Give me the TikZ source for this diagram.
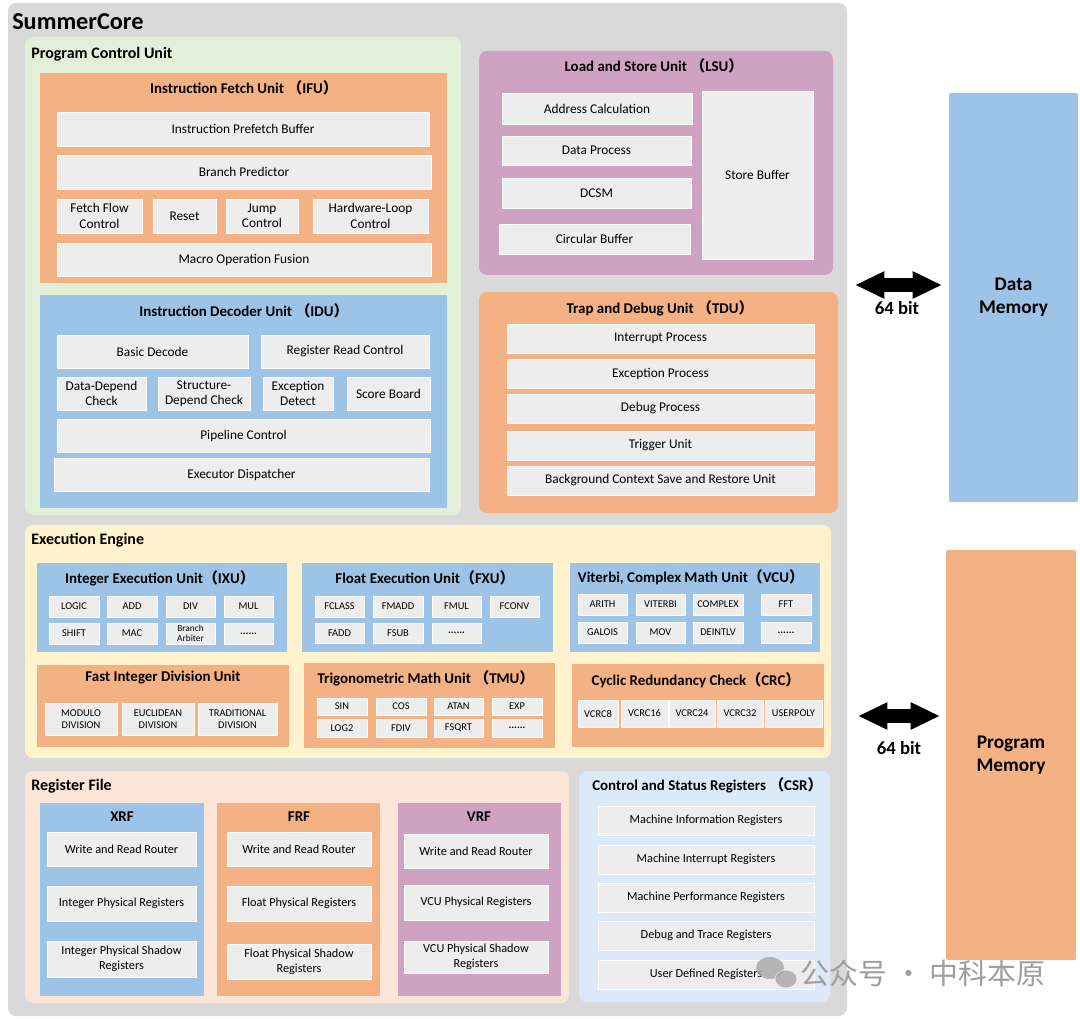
\documentclass[tikz,border=0pt]{standalone}
\usepackage{fontspec}
\setmainfont{Carlito}
\newfontfamily\cjk{Noto Sans CJK SC}
\usetikzlibrary{fit,arrows.meta}
\definecolor{coregray}{HTML}{D9D9D9}
\definecolor{pcugreen}{HTML}{E2F0D9}
\definecolor{unitorange}{HTML}{F4B183}
\definecolor{unitblue}{HTML}{9DC3E6}
\definecolor{unitpurple}{HTML}{D0A2C2}
\definecolor{cellgray}{HTML}{EDEDED}
\definecolor{execyellow}{HTML}{FFF2CC}
\definecolor{regpeach}{HTML}{FBE5D6}
\definecolor{csrblue}{HTML}{DCE9F8}
\newcommand{\fwl}{{\cjk （}}
\newcommand{\fwr}{{\cjk ）}}

\begin{document}
\begin{tikzpicture}[x=0.75pt,y=-0.75pt,
    panel/.style={inner sep=0pt,draw=none},
    cell/.style={inner sep=0pt,fill=cellgray,draw=white,line width=0.5pt},
    celltext/.style={inner sep=0pt,align=center,font=\fontsize{10}{11.5}\selectfont},
    regtext/.style={inner sep=0pt,align=center,font=\fontsize{9.2}{11}\selectfont},
    tinytext/.style={inner sep=0pt,align=center,font=\fontsize{7.8}{9.5}\selectfont},
    memtext/.style={inner sep=0pt,align=center,font=\bfseries\fontsize{14.5}{17.5}\selectfont},
    heading/.style={inner sep=0pt,font=\bfseries\fontsize{11.2}{13}\selectfont},
    panelhead/.style={inner sep=0pt,anchor=west,font=\bfseries\fontsize{12}{14}\selectfont},
    bus/.style={line width=10.5pt,{Triangle[length=22pt,width=19pt]}-{Triangle[length=22pt,width=19pt]}}]
        \useasboundingbox (0,0) rectangle (1080,1019);

        \node[panel,fill=coregray,rounded corners=6pt,fit={(8,3) (847,1016)}] (SummerCore) {};
        \node[anchor=west,inner sep=0pt,font=\bfseries\fontsize{18.2}{21}\selectfont] (Core Title) at (12,22) {SummerCore};

        % program control unit
        \node[panel,fill=pcugreen,rounded corners=6pt,fit={(25,37) (461,515)}] (PCU) {};
        \node[panelhead] (PCU Title) at (31,54) {Program Control Unit};

        \node[panel,fill=unitorange,fit={(40,73) (447,283)}] (IFU) {};
        \node[heading] (IFU Title) at (244,88) {Instruction Fetch Unit \fwl IFU\fwr};
        \node[cell,fit={(57,112) (429,146)},label={[celltext]center:Instruction Prefetch Buffer}] (Prefetch Buffer) {};
        \node[cell,fit={(57,155) (431,189)},label={[celltext]center:Branch Predictor}] (Branch Predictor) {};
        \node[cell,fit={(57,199) (142,233)},label={[celltext]center:Fetch Flow\\Control}] (Fetch Flow) {};
        \node[cell,fit={(153,199) (216,233)},label={[celltext]center:Reset}] (Reset) {};
        \node[cell,fit={(226,199) (298,233)},label={[celltext]center:Jump\\Control}] (Jump) {};
        \node[cell,fit={(313,199) (428,233)},label={[celltext]center:Hardware-Loop\\Control}] (Hardware Loop) {};
        \node[cell,fit={(57,243) (431,276)},label={[celltext]center:Macro Operation Fusion}] (Macro Fusion) {};

        \node[panel,fill=unitblue,fit={(40,295) (447,508)}] (IDU) {};
        \node[heading] (IDU Title) at (244,311) {Instruction Decoder Unit \fwl IDU\fwr};
        \node[cell,fit={(57,335) (248,368)},label={[celltext]center:Basic Decode}] (Basic Decode) {};
        \node[cell,fit={(261,335) (429,368)},label={[celltext]center:Register Read Control}] (Register Read) {};
        \node[cell,fit={(57,377) (146,410)},label={[celltext]center:Data-Depend\\Check}] (Data Depend) {};
        \node[cell,fit={(158,377) (250,410)},label={[celltext]center:Structure-\\Depend Check}] (Structure Depend) {};
        \node[cell,fit={(263,377) (333,410)},label={[celltext]center:Exception\\Detect}] (Exception Detect) {};
        \node[cell,fit={(347,377) (430,410)},label={[celltext]center:Score Board}] (Score Board) {};
        \node[cell,fit={(57,419) (430,452)},label={[celltext]center:Pipeline Control}] (Pipeline Control) {};
        \node[cell,fit={(54,458) (429,491)},label={[celltext]center:Executor Dispatcher}] (Executor Dispatcher) {};

        % load/store and trap/debug
        \node[panel,fill=unitpurple,rounded corners=6pt,fit={(479,51) (833,275)}] (LSU) {};
        \node[heading] (LSU Title) at (654,66) {Load and Store Unit \fwl LSU\fwr};
        \node[cell,fit={(502,93) (692,124)},label={[celltext]center:Address Calculation}] (Address Calculation) {};
        \node[cell,fit={(502,136) (691,165)},label={[celltext]center:Data Process}] (Data Process) {};
        \node[cell,fit={(502,178) (691,208)},label={[celltext]center:DCSM}] (DCSM) {};
        \node[cell,fit={(499,224) (690,254)},label={[celltext]center:Circular Buffer}] (Circular Buffer) {};
        \node[cell,fit={(702,91) (813,259)},label={[celltext]center:Store Buffer}] (Store Buffer) {};

        \node[panel,fill=unitorange,rounded corners=6pt,fit={(479,292) (838,513)}] (TDU) {};
        \node[heading] (TDU Title) at (660,308) {Trap and Debug Unit \fwl TDU\fwr};
        \node[cell,fit={(507,324) (814,353)},label={[celltext]center:Interrupt Process}] (Interrupt Process) {};
        \node[cell,fit={(507,359) (814,388)},label={[celltext]center:Exception Process}] (Exception Process) {};
        \node[cell,fit={(507,394) (814,423)},label={[celltext]center:Debug Process}] (Debug Process) {};
        \node[cell,fit={(507,431) (814,460)},label={[celltext]center:Trigger Unit}] (Trigger Unit) {};
        \node[cell,fit={(507,466) (814,495)},label={[celltext]center:Background Context Save and Restore Unit}] (Context Save) {};

        % execution engine
        \node[panel,fill=execyellow,rounded corners=6pt,fit={(25,525) (831,758)}] (Execution Engine) {};
        \node[panelhead] (EE Title) at (31,540) {Execution Engine};

        \node[panel,fill=unitblue,fit={(37,563) (287,652)}] (IXU) {};
        \node[heading] (IXU Title) at (160,578) {Integer Execution Unit\fwl IXU\fwr};
        \node[cell,fit={(49,596) (99,617)},label={[tinytext]center:LOGIC}] (LOGIC) {};
        \node[cell,fit={(107,596) (157,617)},label={[tinytext]center:ADD}] (ADD) {};
        \node[cell,fit={(166,596) (215,617)},label={[tinytext]center:DIV}] (DIV) {};
        \node[cell,fit={(224,596) (273,617)},label={[tinytext]center:MUL}] (MUL) {};
        \node[cell,fit={(49,623) (99,644)},label={[tinytext]center:SHIFT}] (SHIFT) {};
        \node[cell,fit={(107,623) (157,644)},label={[tinytext]center:MAC}] (MAC) {};
        \node[cell,fit={(166,623) (215,644)},label={[tinytext,font=\fontsize{7}{7.6}\selectfont]center:Branch\\Arbiter}] (Branch Arbiter) {};
        \node[cell,fit={(224,623) (273,644)},label={[tinytext]center:\textbf{......}}] (IXU More) {};

        \node[panel,fill=unitblue,fit={(302,563) (553,652)}] (FXU) {};
        \node[heading] (FXU Title) at (425,578) {Float Execution Unit\fwl FXU\fwr};
        \node[cell,fit={(315,596) (364,617)},label={[tinytext]center:FCLASS}] (FCLASS) {};
        \node[cell,fit={(373,596) (423,617)},label={[tinytext]center:FMADD}] (FMADD) {};
        \node[cell,fit={(432,596) (481,617)},label={[tinytext]center:FMUL}] (FMUL) {};
        \node[cell,fit={(490,596) (539,617)},label={[tinytext]center:FCONV}] (FCONV) {};
        \node[cell,fit={(315,623) (364,643)},label={[tinytext]center:FADD}] (FADD) {};
        \node[cell,fit={(373,623) (423,643)},label={[tinytext]center:FSUB}] (FSUB) {};
        \node[cell,fit={(432,623) (481,643)},label={[tinytext]center:\textbf{......}}] (FXU More) {};

        \node[panel,fill=unitblue,fit={(570,563) (820,652)}] (VCU) {};
        \node[heading] (VCU Title) at (691,577) {Viterbi, Complex Math Unit\fwl VCU\fwr};
        \node[cell,fit={(578,594) (627,615)},label={[tinytext]center:ARITH}] (ARITH) {};
        \node[cell,fit={(636,594) (685,615)},label={[tinytext]center:VITERBI}] (VITERBI) {};
        \node[cell,fit={(693,594) (743,615)},label={[tinytext]center:COMPLEX}] (COMPLEX) {};
        \node[cell,fit={(761,594) (811,615)},label={[tinytext]center:FFT}] (FFT) {};
        \node[cell,fit={(578,622) (627,643)},label={[tinytext]center:GALOIS}] (GALOIS) {};
        \node[cell,fit={(636,622) (685,643)},label={[tinytext]center:MOV}] (MOV) {};
        \node[cell,fit={(693,622) (743,643)},label={[tinytext]center:DEINTLV}] (DEINTLV) {};
        \node[cell,fit={(761,622) (811,643)},label={[tinytext]center:\textbf{......}}] (VCU More) {};

        \node[panel,fill=unitorange,fit={(37,665) (289,747)}] (FIDU) {};
        \node[heading] (FIDU Title) at (163,678) {Fast Integer Division Unit};
        \node[cell,fit={(45,703) (117,735)},label={[tinytext]center:MODULO\\DIVISION}] (Modulo) {};
        \node[cell,fit={(122,703) (194,735)},label={[tinytext]center:EUCLIDEAN\\DIVISION}] (Euclidean) {};
        \node[cell,fit={(198,703) (277,735)},label={[tinytext]center:TRADITIONAL\\DIVISION}] (Traditional) {};

        \node[panel,fill=unitorange,fit={(304,663) (555,748)}] (TMU) {};
        \node[heading] (TMU Title) at (426,678) {Trigonometric Math Unit \fwl TMU\fwr};
        \node[cell,fit={(317,698) (367,715)},label={[tinytext]center:SIN}] (SIN) {};
        \node[cell,fit={(376,698) (426,715)},label={[tinytext]center:COS}] (COS) {};
        \node[cell,fit={(434,698) (483,715)},label={[tinytext]center:ATAN}] (ATAN) {};
        \node[cell,fit={(492,698) (542,715)},label={[tinytext]center:EXP}] (EXP) {};
        \node[cell,fit={(317,719) (367,737)},label={[tinytext]center:LOG2}] (LOG2) {};
        \node[cell,fit={(376,719) (426,737)},label={[tinytext]center:FDIV}] (FDIV) {};
        \node[cell,fit={(434,719) (483,737)},label={[tinytext]center:FSQRT}] (FSQRT) {};
        \node[cell,fit={(492,719) (542,737)},label={[tinytext]center:\textbf{......}}] (TMU More) {};

        \node[panel,fill=unitorange,fit={(572,664) (824,747)}] (CRC) {};
        \node[heading] (CRC Title) at (696,680) {Cyclic Redundancy Check\fwl CRC\fwr};
        \node[cell,fit={(578,700) (618,727)},label={[tinytext]center:VCRC8}] (VCRC8) {};
        \node[cell,fit={(621,700) (668,727)},label={[tinytext]center:VCRC16}] (VCRC16) {};
        \node[cell,fit={(669,700) (715,727)},label={[tinytext]center:VCRC24}] (VCRC24) {};
        \node[cell,fit={(717,700) (763,727)},label={[tinytext]center:VCRC32}] (VCRC32) {};
        \node[cell,fit={(765,700) (822,727)},label={[tinytext]center:USERPOLY}] (USERPOLY) {};

        % register file
        \node[panel,fill=regpeach,rounded corners=6pt,fit={(25,771) (569,1003)}] (Register File) {};
        \node[panelhead] (RF Title) at (31,786) {Register File};

        \node[panel,fill=unitblue,fit={(40,803) (204,996)}] (XRF) {};
        \node[heading] (XRF Title) at (122,817) {XRF};
        \node[cell,fit={(47,832) (196,866)},label={[regtext]center:Write and Read Router}] (XRF Router) {};
        \node[cell,fit={(47,886) (196,921)},label={[regtext]center:Integer Physical Registers}] (XRF Physical) {};
        \node[cell,fit={(47,941) (196,977)},label={[regtext]center:Integer Physical Shadow\\Registers}] (XRF Shadow) {};

        \node[panel,fill=unitorange,fit={(217,803) (380,996)}] (FRF) {};
        \node[heading] (FRF Title) at (299,817) {FRF};
        \node[cell,fit={(227,832) (371,866)},label={[regtext]center:Write and Read Router}] (FRF Router) {};
        \node[cell,fit={(227,886) (371,921)},label={[regtext]center:Float Physical Registers}] (FRF Physical) {};
        \node[cell,fit={(227,944) (371,979)},label={[regtext]center:Float Physical Shadow\\Registers}] (FRF Shadow) {};

        \node[panel,fill=unitpurple,fit={(398,803) (561,996)}] (VRF) {};
        \node[heading] (VRF Title) at (479,817) {VRF};
        \node[cell,fit={(404,834) (548,868)},label={[regtext]center:Write and Read Router}] (VRF Router) {};
        \node[cell,fit={(404,885) (548,920)},label={[regtext]center:VCU Physical Registers}] (VRF Physical) {};
        \node[cell,fit={(404,941) (548,973)},label={[regtext]center:VCU Physical Shadow\\Registers}] (VRF Shadow) {};

        \node[panel,fill=csrblue,rounded corners=6pt,fit={(579,771) (830,1002)}] (CSR) {};
        \node[heading,anchor=west] (CSR Title) at (592,785) {Control and Status Registers \fwl CSR\fwr};
        \node[cell,fit={(598,806) (814,835)},label={[regtext]center:Machine Information Registers}] (Machine Information) {};
        \node[cell,fit={(598,845) (814,874)},label={[regtext]center:Machine Interrupt Registers}] (Machine Interrupt) {};
        \node[cell,fit={(598,883) (814,912)},label={[regtext]center:Machine Performance Registers}] (Machine Performance) {};
        \node[cell,fit={(598,921) (814,950)},label={[regtext]center:Debug and Trace Registers}] (Debug Trace) {};
        \node[cell,fit={(598,960) (814,989)},label={[regtext]center:User Defined Registers}] (User Defined) {};

        % memories
        \node[panel,fill=unitblue,rounded corners=1.5pt,fit={(949,93) (1078,502)},
          label={[memtext]center:Data\\Memory}] (Data Memory) {};
        \node[panel,fill=unitorange,rounded corners=1.5pt,fit={(946,550) (1076,960)},
          label={[memtext]center:Program\\Memory}] (Program Memory) {};

        \coordinate (Data Bus Left) at (855,285);
        \coordinate (Data Bus Right) at (942,285);
        \coordinate (Program Bus Left) at (858,716);
        \coordinate (Program Bus Right) at (940,716);
        \draw[bus] (Data Bus Left) to (Data Bus Right);
        \draw[bus] (Program Bus Left) to (Program Bus Right);
        \node[heading,font=\bfseries\fontsize{14}{16}\selectfont] (Data Width) at (897,308) {64 bit};
        \node[heading,font=\bfseries\fontsize{14}{16}\selectfont] (Program Width) at (899,748) {64 bit};

        % watermark
        \fill[black!35,opacity=0.8] (770,968) ellipse (14 and 11);
        \fill[black!35,opacity=0.8,draw=white] (786,979) ellipse (11 and 9);
        \node[inner sep=0pt,text=black!38,font=\cjk\fontsize{21.7}{24}\selectfont] (Watermark) at (923,973) {公众号 · 中科本原};

    \end{tikzpicture}
\end{document}
